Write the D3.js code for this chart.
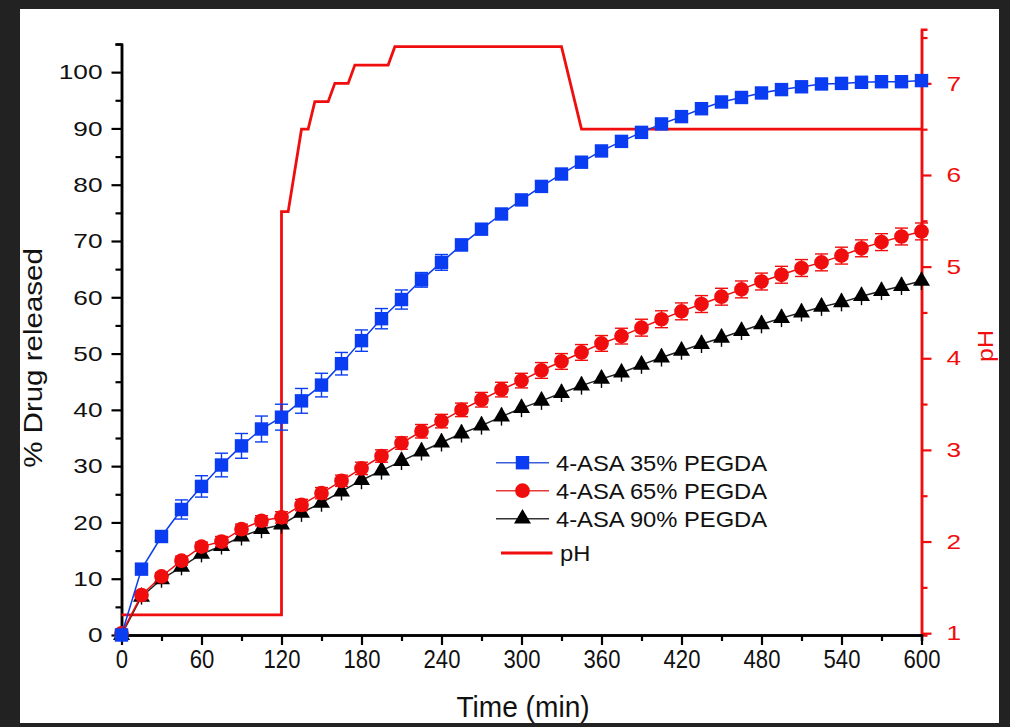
<!DOCTYPE html>
<html>
<head>
<meta charset="utf-8">
<script src="https://cdn.jsdelivr.net/npm/d3@7"></script>
<style>
  html, body { margin: 0; padding: 0; background: #222; }
  text { font-family: "Liberation Sans", Arial, sans-serif; }
</style>
</head>
<body>
<div id="chart"></div>
<script>
// ------------------------------- DATA ------------------------------------
var times = [0, 15, 30, 45, 60, 75, 90, 105, 120, 135, 150, 165, 180, 195, 210, 225, 240, 255, 270, 285,
             300, 315, 330, 345, 360, 375, 390, 405, 420, 435, 450, 465, 480, 495, 510, 525, 540, 555, 570, 585, 600];

var peg35 = [0, 11.7, 17.5, 22.3, 26.4, 30.2, 33.6, 36.6, 38.7, 41.6, 44.4, 48.2, 52.3, 56.2, 59.6, 63.1, 66.2, 69.3, 72.1, 74.8,
             77.3, 79.7, 81.9, 84.0, 86.0, 87.7, 89.3, 90.8, 92.1, 93.5, 94.7, 95.5, 96.3, 96.9, 97.4, 97.9, 98.0, 98.2, 98.3, 98.3, 98.5];
var err35 = [0, 0.8, 0.9, 1.7, 1.9, 2.1, 2.2, 2.3, 2.3, 2.2, 2.1, 2.0, 1.9, 1.8, 1.7, 1.3, 1.4, 1.0, 0.9, 0.8,
             0.7, 0.7, 0.6, 0.6, 0.6, 0.6, 0.6, 0.6, 0.5, 0.5, 0.5, 0.5, 0.5, 0.5, 0.5, 0.5, 0.5, 0.5, 0.5, 0.5, 0.5];

var peg65 = [0.3, 7.1, 10.4, 13.2, 15.7, 16.6, 18.8, 20.3, 20.9, 23.1, 25.2, 27.4, 29.6, 31.8, 34.1, 36.2, 38.0, 40.0, 41.8, 43.6,
             45.2, 47.0, 48.6, 50.2, 51.8, 53.1, 54.6, 56.1, 57.5, 58.8, 60.1, 61.4, 62.8, 64.0, 65.2, 66.2, 67.4, 68.7, 69.8, 70.8, 71.7];
var err65 = [0, 0.6, 0.7, 0.8, 0.8, 0.9, 0.9, 0.9, 1.0, 1.0, 1.0, 1.0, 1.1, 1.1, 1.1, 1.2, 1.2, 1.2, 1.3, 1.3,
             1.3, 1.4, 1.4, 1.4, 1.4, 1.4, 1.5, 1.5, 1.5, 1.5, 1.5, 1.5, 1.5, 1.5, 1.5, 1.5, 1.5, 1.5, 1.5, 1.5, 1.5];

var peg90 = [0, 6.8, 9.9, 12.1, 14.4, 15.8, 17.5, 18.8, 19.6, 21.7, 23.5, 25.5, 27.5, 29.2, 30.9, 32.6, 34.2, 35.8, 37.2, 38.8,
             40.3, 41.6, 43.0, 44.3, 45.5, 46.6, 48.0, 49.3, 50.5, 51.7, 52.8, 54.0, 55.2, 56.3, 57.3, 58.3, 59.1, 60.2, 61.1, 62.0, 62.9];
var err90 = [0, 1.4, 1.5, 1.5, 1.5, 1.5, 1.6, 1.6, 1.6, 1.6, 1.6, 1.6, 1.6, 1.6, 1.6, 1.6, 1.6, 1.6, 1.6, 1.6,
             1.6, 1.6, 1.6, 1.6, 1.6, 1.6, 1.6, 1.6, 1.6, 1.6, 1.6, 1.6, 1.6, 1.6, 1.6, 1.6, 1.6, 1.6, 1.6, 1.6, 1.6];

// pH profile (time, pH)
var phTime = [0, 120, 120, 125, 135, 140, 145, 155, 160, 170, 175, 200, 205, 330, 345, 600];
var phVal  = [1.2, 1.2, 5.6, 5.6, 6.5, 6.5, 6.8, 6.8, 7.0, 7.0, 7.2, 7.2, 7.4, 7.4, 6.5, 6.5];

var xTicks = [0, 60, 120, 180, 240, 300, 360, 420, 480, 540, 600];
var xMinor = [30, 90, 150, 210, 270, 330, 390, 450, 510, 570];
var yTicks = [0, 10, 20, 30, 40, 50, 60, 70, 80, 90, 100];
var yMinor = [5, 15, 25, 35, 45, 55, 65, 75, 85, 95, 105];
var phTicks = [1, 2, 3, 4, 5, 6, 7];
var phMinor = [1.5, 2.5, 3.5, 4.5, 5.5, 6.5, 7.5];

var seriesNames = ["4-ASA 35% PEGDA", "4-ASA 65% PEGDA", "4-ASA 90% PEGDA"];

var BLUE = "#0a3cf2", RED = "#f00d0d", BLACK = "#000000";

// ------------------------------- SVG ------------------------------------
var W = 1010, H = 727;
var svg = d3.select("#chart").append("svg").attr("width", W).attr("height", H);
svg.append("rect").attr("width", W).attr("height", H).attr("fill", "#222");
svg.append("rect").attr("x", 20).attr("y", 9).attr("width", 979).attr("height", 714).attr("fill", "#fff");

// ------------------------------- SCALES ------------------------------------
var xScale = d3.scaleLinear().domain([0, 600]).range([121.5, 921.5]);
var yScale = d3.scaleLinear().domain([0, 105]).range([635, 44]);
var phScale = d3.scaleLinear().domain([0.98, 7.59]).range([635, 29.3]);

// ------------------------------- AXES ------------------------------------
function styleAxis(g, color) {
    g.selectAll("path.domain").attr("stroke", color).attr("stroke-width", 2.5);
    g.selectAll(".tick line").attr("stroke", color).attr("stroke-width", 2.2);
    g.selectAll(".tick text").attr("fill", color);
}

// left
var gyMinor = svg.append("g").attr("transform", "translate(121.5,0)")
    .call(d3.axisLeft(yScale).tickValues(yMinor).tickSize(6).tickFormat(""));
styleAxis(gyMinor, BLACK);
var gy = svg.append("g").attr("transform", "translate(121.5,0)")
    .call(d3.axisLeft(yScale).tickValues(yTicks).tickSizeInner(10).tickSizeOuter(0).tickPadding(5));
styleAxis(gy, BLACK);
gy.selectAll(".tick text").style("font-size", "21px").attr("fill", "#111")
    .attr("x", -15.2).attr("transform", "scale(1.25,1)");

// right (pH)
var gpMinor = svg.append("g").attr("transform", "translate(921.5,0)")
    .call(d3.axisRight(phScale).tickValues(phMinor).tickSize(6).tickFormat(""));
styleAxis(gpMinor, RED);
var gp = svg.append("g").attr("transform", "translate(921.5,0)")
    .call(d3.axisRight(phScale).tickValues(phTicks).tickFormat(d3.format("d"))
        .tickSizeInner(10).tickSizeOuter(0).tickPadding(10));
styleAxis(gp, RED);
gp.selectAll(".tick text").style("font-size", "21px").attr("transform", "scale(1.25,1)");

// bottom
var gxMinor = svg.append("g").attr("transform", "translate(0,635)")
    .call(d3.axisBottom(xScale).tickValues(xMinor).tickSize(6).tickFormat(""));
styleAxis(gxMinor, BLACK);
var gx = svg.append("g").attr("transform", "translate(0,635)")
    .call(d3.axisBottom(xScale).tickValues(xTicks).tickSizeInner(10).tickSizeOuter(0).tickPadding(5));
styleAxis(gx, BLACK);
gx.selectAll(".tick text").style("font-size", "26px").attr("fill", "#111")
    .attr("transform", "scale(0.85,1)");

// axis titles
svg.append("text").attr("transform", "translate(523,717) scale(0.97,1)").attr("text-anchor", "middle")
    .style("font-size", "29px").attr("fill", "#111").text("Time (min)");
svg.append("text").attr("transform", "translate(42,358) rotate(-90) scale(1,0.86)").attr("text-anchor", "middle")
    .style("font-size", "29.5px").attr("fill", "#111").text("% Drug released");
svg.append("text").attr("transform", "translate(993,346) rotate(-90) scale(1,0.85)").attr("text-anchor", "middle")
    .style("font-size", "25px").attr("fill", RED).text("pH");

// ------------------------------- pH LINE ------------------------------------
var phData = phTime.map(function(t, i) { return [t, phVal[i]]; });
svg.append("path").datum(phData)
    .attr("d", d3.line().x(function(d) { return xScale(d[0]); }).y(function(d) { return phScale(d[1]); }))
    .attr("fill", "none").attr("stroke", RED).attr("stroke-width", 2.8).attr("stroke-linejoin", "miter");

// ------------------------------- SERIES ------------------------------------
var square = d3.symbol().type(d3.symbolSquare).size(180);
var circle = d3.symbol().type(d3.symbolCircle).size(170);
var triangle = d3.symbol().type(d3.symbolTriangle).size(125);

function drawSeries(vals, errs, color, sym, capHalf, lineColor) {
    var pts = times.map(function(t, i) { return { t: t, v: vals[i], e: errs[i] }; });
    var g = svg.append("g");
    g.append("path").datum(pts)
        .attr("d", d3.line().x(function(d) { return xScale(d.t); }).y(function(d) { return yScale(d.v); }))
        .attr("fill", "none").attr("stroke", lineColor).attr("stroke-width", 1.5);
    var eb = g.selectAll("g.err").data(pts.filter(function(d) { return d.e > 0; })).enter().append("g");
    eb.append("line")
        .attr("x1", function(d) { return xScale(d.t); }).attr("x2", function(d) { return xScale(d.t); })
        .attr("y1", function(d) { return yScale(d.v - d.e); }).attr("y2", function(d) { return yScale(d.v + d.e); })
        .attr("stroke", color).attr("stroke-width", 1.4);
    [-1, 1].forEach(function(s) {
        eb.append("line")
            .attr("x1", function(d) { return xScale(d.t) - capHalf; }).attr("x2", function(d) { return xScale(d.t) + capHalf; })
            .attr("y1", function(d) { return yScale(d.v + s * d.e); }).attr("y2", function(d) { return yScale(d.v + s * d.e); })
            .attr("stroke", color).attr("stroke-width", 1.4);
    });
    g.selectAll("path.m").data(pts).enter().append("path").attr("class", "m")
        .attr("d", sym)
        .attr("transform", function(d) { return "translate(" + xScale(d.t) + "," + yScale(d.v) + ")"; })
        .attr("fill", color);
}

drawSeries(peg90, err90, BLACK, triangle, 0, "#222");
drawSeries(peg65, err65, RED, circle, 6.5, RED);
drawSeries(peg35, err35, BLUE, square, 6.5, BLUE);

// ------------------------------- LEGEND ------------------------------------
var legRows = [462.7, 490.7, 518.7];
var legColors = [BLUE, RED, BLACK];
var legLine = ["#3a5fd8", "#e83a3a", "#333"];
var legSyms = [square, circle, triangle];
var legend = svg.append("g");
seriesNames.forEach(function(name, i) {
    legend.append("line").attr("x1", 496).attr("x2", 549).attr("y1", legRows[i]).attr("y2", legRows[i])
        .attr("stroke", legLine[i]).attr("stroke-width", 1.5);
    legend.append("path").attr("d", legSyms[i]).attr("transform", "translate(522.5," + legRows[i] + ")")
        .attr("fill", legColors[i]);
    legend.append("text").attr("transform", "translate(556," + (legRows[i] + 8) + ") scale(1.08,1)")
        .style("font-size", "22px").attr("fill", "#111").text(name);
});
legend.append("line").attr("x1", 501).attr("x2", 552.5).attr("y1", 553).attr("y2", 553)
    .attr("stroke", RED).attr("stroke-width", 2.8);
legend.append("text").attr("transform", "translate(560,561) scale(1.08,1)")
    .style("font-size", "22px").attr("fill", "#111").text("pH");
</script>
</body>
</html>
